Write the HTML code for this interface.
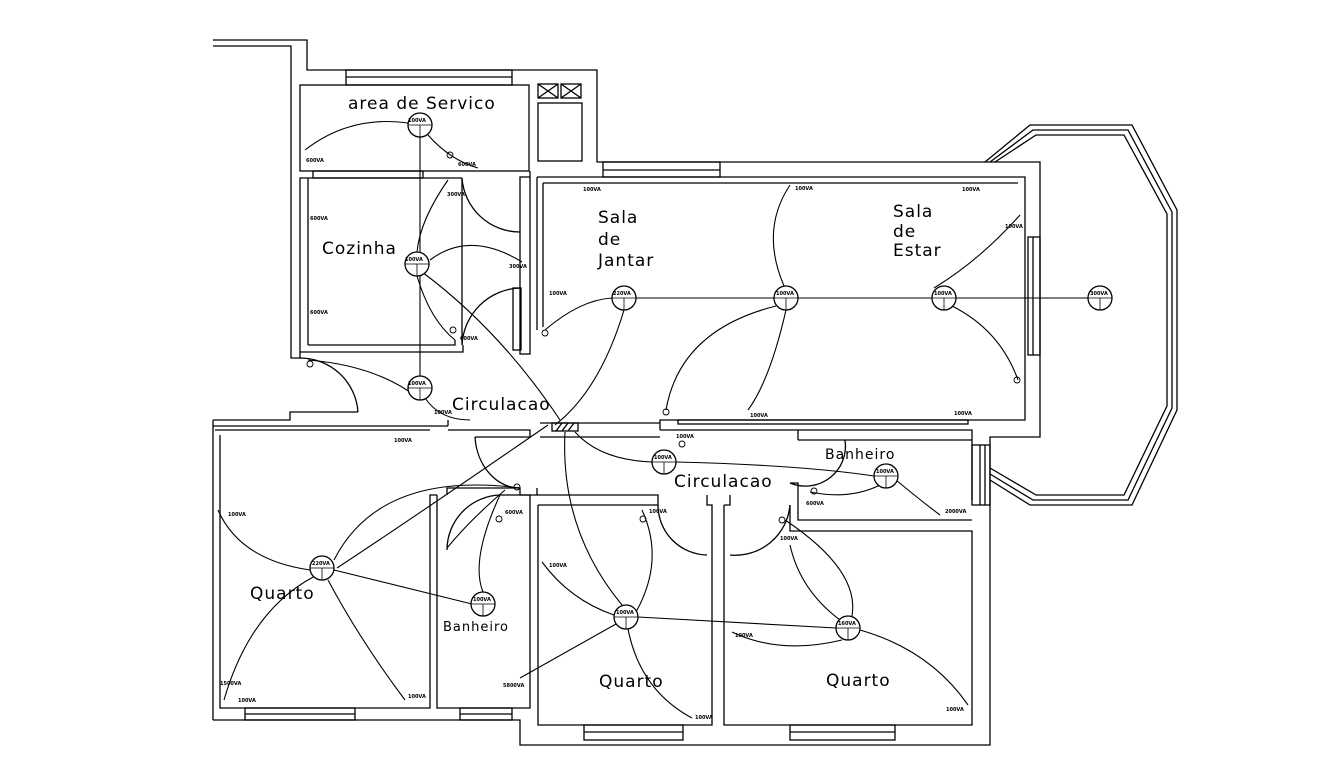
<!DOCTYPE html>
<html><head><meta charset="utf-8"><style>
html,body{margin:0;padding:0;background:#fff;}
svg{display:block;}
text{font-family:"DejaVu Sans","Liberation Sans",sans-serif;fill:#000;}
.l{font-size:17px;letter-spacing:1px;}
.s{font-size:5px;font-weight:bold;}
</style></head><body>
<svg width="1325" height="771" viewBox="0 0 1325 771" xmlns="http://www.w3.org/2000/svg">
<g fill="none" stroke="#000" stroke-width="1.3">
<polyline points="213,40 307,40 307,70 597,70 597,162 1040,162 1040,437 990,437 990,745 520,745 520,720 213,720"/>
<polyline points="213,46 291,46 291,358 300,358 300,352"/>
<line x1="213" y1="420" x2="213" y2="720"/>
<polyline points="213,420 290,420 290,412 358,412"/>
<rect x="300" y="85" width="229" height="86"/>
<rect x="346" y="70" width="166" height="15"/>
<line x1="346" y1="77" x2="512" y2="77"/>
<rect x="313" y="171" width="110" height="7"/>
<rect x="538" y="84" width="20" height="14"/><line x1="538" y1="84" x2="558" y2="98"/><line x1="558" y1="84" x2="538" y2="98"/>
<rect x="561" y="84" width="20" height="14"/><line x1="561" y1="84" x2="581" y2="98"/><line x1="581" y1="84" x2="561" y2="98"/>
<rect x="538" y="103" width="44" height="58"/>
<polyline points="462,178 300,178 300,352 463,352 463,345"/>
<polyline points="308,345 455,345 455,340"/>
<line x1="308" y1="178" x2="308" y2="345"/>
<line x1="462" y1="345" x2="462" y2="178"/>
<rect x="520" y="177" width="10" height="177"/>
<line x1="530" y1="171" x2="530" y2="177"/>
<polyline points="537,177 1025,177 1025,420 660,420 660,430"/>
<polyline points="543,183 1018,183"/>
<line x1="537" y1="177" x2="537" y2="330"/>
<line x1="543" y1="183" x2="543" y2="327"/>
<rect x="513" y="288" width="8" height="62"/>
<rect x="603" y="162" width="117" height="15"/><line x1="603" y1="170" x2="720" y2="170"/>
<rect x="1028" y="237" width="12" height="118"/><line x1="1033" y1="237" x2="1033" y2="355"/>
<polyline points="448,430 530,430 530,437 475,437"/>
<polyline points="215,430 430,430"/>
<line x1="213" y1="426" x2="448" y2="426"/>
<line x1="448" y1="420" x2="448" y2="426"/>
<rect x="552" y="423" width="26" height="8"/>
<line x1="556" y1="431" x2="562" y2="423"/><line x1="562" y1="431" x2="568" y2="423"/><line x1="568" y1="431" x2="574" y2="423"/>
<polyline points="540,423 660,423"/><polyline points="540,437 660,437"/>
<polyline points="660,430 972,430 972,500"/>
<rect x="678" y="420" width="290" height="4"/>
<polyline points="220,435 220,708 430,708 430,495 437,495"/>
<rect x="245" y="708" width="110" height="12"/><line x1="245" y1="714" x2="355" y2="714"/>
<polyline points="437,495 437,708 530,708 530,495 500,495"/>
<polyline points="447,495 447,488 520,488 520,495 537,495 537,488"/>
<rect x="460" y="708" width="52" height="12"/><line x1="460" y1="714" x2="512" y2="714"/>
<polyline points="538,505 538,725 712,725 712,505 707,505 707,495"/>
<polyline points="538,505 658,505 658,495 537,495"/>
<rect x="584" y="725" width="99" height="15"/><line x1="584" y1="732" x2="683" y2="732"/>
<polyline points="724,505 724,725 972,725 972,531 790,531 790,505"/>
<polyline points="730,495 730,505 724,505"/>
<rect x="790" y="725" width="105" height="15"/><line x1="790" y1="732" x2="895" y2="732"/>
<polyline points="798,440 798,430"/>
<polyline points="790,483 798,483 798,520 972,520"/>
<polyline points="798,440 972,440"/>
<rect x="972" y="445" width="18" height="60"/><line x1="980" y1="445" x2="980" y2="505"/><line x1="985" y1="445" x2="985" y2="505"/>
<polyline points="985,162 1030,125 1132,125 1177,210 1177,410 1132,505 1030,505 990,480"/>
<polyline points="990,162 1033,130 1128,130 1172,212 1172,408 1128,500 1033,500 990,474"/>
<polyline points="995,162 1036,135 1124,135 1167,214 1167,406 1124,495 1036,495 990,468"/>
<path d="M462,178 A58,58 0 0 0 520,232"/>
<path d="M520,288 A60,60 0 0 0 462,345"/>
<path d="M300,358 A58,58 0 0 1 358,412"/>
<path d="M475,437 A45,55 0 0 0 520,488"/>
<path d="M447,550 A55,55 0 0 1 500,495"/>
<path d="M658,505 A50,50 0 0 0 707,555"/>
<path d="M730,555 A55,55 0 0 0 790,505"/>
<path d="M790,483 A40,40 0 0 0 845,440"/>
<g stroke-width="1.1">
<path d="M305,150 Q350,115 408,123"/>
<line x1="420" y1="137" x2="420" y2="376"/>
<path d="M428,135 Q450,160 478,168"/>
<path d="M448,180 Q420,220 417,252"/>
<path d="M430,260 Q470,230 522,262"/>
<path d="M417,276 Q430,320 455,340"/>
<path d="M422,272 Q500,330 560,420"/>
<path d="M410,392 Q370,365 308,360"/>
<path d="M425,398 Q440,420 470,420"/>
<path d="M545,330 Q580,300 612,298"/>
<line x1="636" y1="298" x2="774" y2="298"/>
<line x1="798" y1="298" x2="932" y2="298"/>
<line x1="956" y1="298" x2="1088" y2="298"/>
<path d="M624,310 Q600,390 555,425"/>
<path d="M776,306 Q680,330 666,410"/>
<path d="M786,310 Q770,380 748,410"/>
<path d="M784,286 Q760,230 790,185"/>
<path d="M934,288 Q980,260 1020,215"/>
<path d="M952,306 Q1000,330 1018,380"/>
<path d="M548,425 Q410,520 337,568"/>
<path d="M520,488 Q380,470 334,560"/>
<path d="M310,570 Q240,560 218,510"/>
<path d="M315,576 Q250,610 224,700"/>
<path d="M328,580 Q360,640 405,700"/>
<path d="M334,570 L472,604"/>
<path d="M565,432 Q560,530 622,605"/>
<path d="M575,432 Q600,460 652,462"/>
<path d="M676,462 Q800,465 874,476"/>
<path d="M636,612 Q665,560 642,510"/>
<path d="M614,615 Q570,600 542,562"/>
<path d="M616,624 Q570,650 520,678"/>
<path d="M628,629 Q640,690 692,718"/>
<path d="M638,617 L836,628"/>
<path d="M840,620 Q800,590 790,545"/>
<path d="M852,616 Q860,570 785,520"/>
<path d="M842,640 Q780,655 732,632"/>
<path d="M860,630 Q930,650 968,705"/>
<path d="M880,485 Q850,500 810,492"/>
<path d="M896,480 Q920,500 940,515"/>
<path d="M500,495 Q470,560 483,592"/>
<path d="M505,490 Q470,520 447,548"/>
</g>
<g fill="#fff">
<circle cx="420" cy="125" r="12"/><circle cx="417" cy="264" r="12"/><circle cx="420" cy="388" r="12"/>
<circle cx="624" cy="298" r="12"/><circle cx="786" cy="298" r="12"/><circle cx="944" cy="298" r="12"/><circle cx="1100" cy="298" r="12"/>
<circle cx="664" cy="462" r="12"/><circle cx="886" cy="476" r="12"/><circle cx="322" cy="568" r="12"/>
<circle cx="483" cy="604" r="12"/><circle cx="626" cy="617" r="12"/><circle cx="848" cy="628" r="12"/>
</g>
<g stroke-width="0.8">
<path d="M408,125h24M420,125v12M405,264h24M417,264v12M408,388h24M420,388v12M612,298h24M624,298v12M774,298h24M786,298v12M932,298h24M944,298v12M1088,298h24M1100,298v12M652,462h24M664,462v12M874,476h24M886,476v12M310,568h24M322,568v12M471,604h24M483,604v12M614,617h24M626,617v12M836,628h24M848,628v12"/>
</g>
<g stroke-width="0.9">
<circle cx="450" cy="155" r="3"/><circle cx="453" cy="330" r="3"/><circle cx="310" cy="364" r="3"/><circle cx="545" cy="333" r="3"/>
<circle cx="666" cy="412" r="3"/><circle cx="1017" cy="380" r="3"/><circle cx="517" cy="487" r="3"/><circle cx="499" cy="519" r="3"/>
<circle cx="643" cy="519" r="3"/><circle cx="682" cy="444" r="3"/><circle cx="814" cy="491" r="3"/><circle cx="782" cy="520" r="3"/>
</g>
</g>
<text class="l" x="348" y="109">area de Servico</text>
<text class="l" x="322" y="254">Cozinha</text>
<text class="l" x="598" y="223">Sala</text><text class="l" x="598" y="245">de</text><text class="l" x="598" y="266">Jantar</text>
<text class="l" x="893" y="217">Sala</text><text class="l" x="893" y="237">de</text><text class="l" x="893" y="256">Estar</text>
<text class="l" x="452" y="410">Circulacao</text>
<text class="l" x="674" y="487">Circulacao</text>
<text font-size="14" x="825" y="459" style="letter-spacing:1px">Banheiro</text>
<text class="l" x="250" y="599">Quarto</text>
<text font-size="13" x="443" y="631" style="letter-spacing:1px">Banheiro</text>
<text class="l" x="599" y="687">Quarto</text>
<text class="l" x="826" y="686">Quarto</text>
<g class="s">
<text x="408" y="122">100VA</text><text x="405" y="261">100VA</text><text x="408" y="385">100VA</text>
<text x="613" y="295">220VA</text><text x="776" y="295">100VA</text><text x="934" y="295">100VA</text><text x="1090" y="295">300VA</text>
<text x="654" y="459">100VA</text><text x="876" y="473">100VA</text><text x="312" y="565">220VA</text>
<text x="473" y="601">100VA</text><text x="616" y="614">100VA</text><text x="838" y="625">160VA</text>
<text x="306" y="162">600VA</text><text x="310" y="220">600VA</text><text x="310" y="314">600VA</text>
<text x="458" y="166">600VA</text><text x="447" y="196">300VA</text><text x="509" y="268">300VA</text>
<text x="460" y="340">600VA</text><text x="549" y="295">100VA</text><text x="583" y="191">100VA</text>
<text x="795" y="190">100VA</text><text x="962" y="191">100VA</text><text x="1005" y="228">100VA</text>
<text x="750" y="417">100VA</text><text x="954" y="415">100VA</text><text x="676" y="438">100VA</text>
<text x="394" y="442">100VA</text><text x="434" y="414">100VA</text><text x="228" y="516">100VA</text>
<text x="505" y="514">600VA</text><text x="649" y="513">100VA</text><text x="549" y="567">100VA</text>
<text x="503" y="687">5800VA</text><text x="695" y="719">100VA</text><text x="408" y="698">100VA</text>
<text x="220" y="685">1500VA</text><text x="238" y="702">100VA</text><text x="780" y="540">100VA</text>
<text x="806" y="505">600VA</text><text x="945" y="513">2000VA</text><text x="735" y="637">100VA</text><text x="946" y="711">100VA</text>
</g>
</svg>
</body></html>
